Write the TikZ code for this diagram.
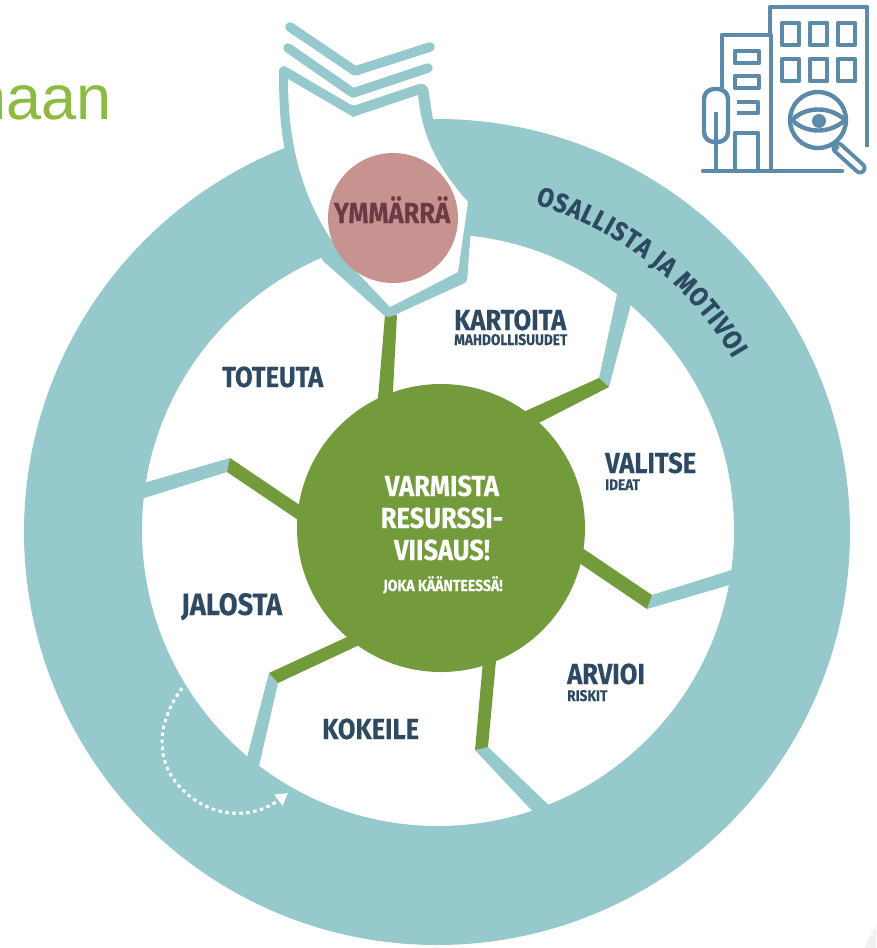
\documentclass[tikz,border=0pt]{standalone}
\usepackage{fontspec}
\setmainfont{Fira Sans}[BoldFeatures={FakeStretch=0.88,FakeBold=0.15}]
\newfontfamily\titlefont{Liberation Sans}
\usetikzlibrary{arrows.meta,decorations.text}
\definecolor{ringteal}{HTML}{95C9CB}
\definecolor{hubgreen}{HTML}{739B3C}
\definecolor{wordnavy}{HTML}{2E4A63}
\definecolor{focuspink}{HTML}{C79391}
\definecolor{focusword}{HTML}{6B3A45}
\definecolor{titlegreen}{HTML}{8DBB3F}
\definecolor{iconblue}{HTML}{5B8BA9}
\definecolor{cornergrey}{HTML}{F1F1F1}
\begin{document}
\begin{tikzpicture}[x=1pt,y=-1pt]
\tikzstyle{word} = [font=\bfseries\fontsize{29}{29}\selectfont,text=wordnavy,inner sep=0pt,anchor=base west]
\tikzstyle{subword} = [font=\bfseries\fontsize{15.5}{15.5}\selectfont,text=wordnavy,inner sep=0pt,anchor=base west]
\tikzstyle{hubword} = [font=\bfseries\fontsize{29}{29}\selectfont,text=white,inner sep=0pt,anchor=base]
\tikzstyle{icon} = [draw=iconblue,line width=4.4pt,line join=round]
\tikzstyle{spoke} = [fill=ringteal]
\tikzstyle{stem} = [fill=hubgreen]
\tikzstyle{chevron} = [ringteal,line width=9.5pt,line cap=round,line join=round]
\useasboundingbox (0,0) rectangle (876,948);
\clip (0,0) rectangle (876,948);

\node [font=\titlefont\fontsize{63}{63}\selectfont,text=titlegreen,inner sep=0pt,anchor=base east] (title) at (112,119) {haan};

%ring
\fill [ringteal,even odd rule] (437,532) circle [radius=413] (438,530) circle [radius=296];

%teal spokes
\fill [spoke] (599,378) -- (609,387) -- (632,300) -- (618,290) -- cycle;
\fill [spoke] (652,595) -- (647,609) -- (740,582) -- (738,568) -- cycle;
\fill [spoke] (475,750) -- (488,747) -- (556,812) -- (536,815) -- cycle;
\fill [spoke] (269,673) -- (278,683) -- (257,775) -- (245,765) -- cycle;
\fill [spoke] (230,458) -- (227,472) -- (138,500) -- (140,484) -- cycle;

%green spokes
\fill [stem] (385,315) -- (397,315) -- (392,410) -- (377,410) -- cycle;
\fill [stem] (599,378) -- (609,387) -- (525,430) -- (510,418) -- cycle;
\fill [stem] (652,595) -- (647,609) -- (560,550) -- (560,533) -- cycle;
\fill [stem] (475,750) -- (488,747) -- (497,650) -- (484,650) -- cycle;
\fill [stem] (269,673) -- (278,683) -- (370,640) -- (360,631) -- cycle;
\fill [stem] (230,458) -- (227,472) -- (310,528) -- (310,512) -- cycle;
\node [circle,fill=hubgreen,minimum size=288pt,inner sep=0pt] (hub) at (441,528) {};

%shield
\fill [ringteal,rounded corners=3pt] (279,70) -- (283,65) -- (353,106) -- (422,83) -- (428,87) -- (433,120) -- (473,200) -- (467,282) -- (390,317) -- (386,317) -- (322,260) -- (285,150) .. controls (280,125) and (279,100) .. (279,70);
\fill [white] (288,79) -- (353,117) -- (418,95) .. controls (421,125) and (430,160) .. (468,202) -- (458,272) -- (390,307) -- (355,270) .. controls (310,220) and (288,160) .. (288,79);
\draw [chevron] (290,27) -- (355,71) -- (430,47);
\draw [chevron] (288,48) -- (353,93) -- (428,68);

\node [circle,fill=focuspink,minimum size=130pt,inner sep=0pt] (focus) at (393,218) {};
\node [font=\bfseries\fontsize{29}{29}\selectfont,text=focusword,inner sep=0pt,anchor=base] (ymmarra) at (392,223) {YMMÄRRÄ};

%labels
\node [word] (kartoita) at (454,330) {KARTOITA};
\node [subword] (mahdoll) at ([yshift=-15pt]kartoita.base west) {MAHDOLLISUUDET};
\node [word] (valitse) at (605,473) {VALITSE};
\node [subword] (ideat) at ([yshift=-17pt]valitse.base west) {IDEAT};
\node [word] (arvioi) at (567,684) {ARVIOI};
\node [subword] (riskit) at ([yshift=-17pt]arvioi.base west) {RISKIT};
\node [word] (kokeile) at (322,739) {KOKEILE};
\node [word,font=\bfseries\fontsize{31}{31}\selectfont] (jalosta) at (181,615) {JALOSTA};
\node [word] (toteuta) at (222,387) {TOTEUTA};

%hub text
\node [hubword] (hub1) at (442,496) {VARMISTA};
\node [hubword] (hub2) at (442,528) {RESURSSI-};
\node [hubword] (hub3) at (442,560) {VIISAUS!};
\node [hubword,font=\bfseries\fontsize{16}{16}\selectfont] (hub4) at (443,591) {JOKA KÄÄNTEESSÄ!};

%outer text
\path [decorate,decoration={text along path,text align=fit to path,
  text={|\bfseries\fontsize{27}{27}\selectfont\color{wordnavy}|OSALLISTA JA MOTIVOI}}]
  (438,532) ++(-73.5:342) arc [start angle=-73.5,end angle=-30.5,radius=342];

%turn arrow
\draw [white,line width=3pt,dash pattern=on 3.5pt off 3.5pt,-{Triangle[length=12pt,width=13pt]}] (182,688) .. controls (155,725) and (155,765) .. (185,792) .. controls (215,820) and (255,818) .. (288,793);

%icon
\draw [icon] (770,37) -- (770,7) -- (867,7) -- (867,147);
\draw [icon] (722,88) -- (722,35) -- (771,35) -- (771,171);
\foreach \px in {782,810,838}
  \foreach \py in {23,59}
    \draw [icon] (\px,\py) rectangle ++(17,22);
\draw [icon] (735,51) rectangle (759,63);
\draw [icon] (735,76) rectangle (759,88);
\draw [icon] (737,102) -- (758,102) -- (758,113) -- (737,113);
\draw [icon] (735,171) -- (735,133) -- (758,133) -- (758,171);
\draw [icon,rounded corners=10pt] (704,89) rectangle (728,142);
\draw [icon] (716,112) -- (716,171);
\draw [icon,line cap=round] (703,171) -- (842,171);
\draw [icon] (818,120) circle [radius=28];
\draw [icon] (792,120) .. controls (806,106) and (830,106) .. (845,120) .. controls (830,134) and (806,134) .. (792,120);
\fill [iconblue] (819,121) circle [radius=7];
\draw [iconblue,line width=13pt,line cap=round] (838,148) -- (860,168);
\draw [white,line width=5pt,line cap=round] (838,148) -- (860,168);
\draw [icon] (832,143) -- (838,149);

%corner
\fill [cornergrey] (864,948) -- (876,925) -- (876,948) -- cycle;
\end{tikzpicture}
\end{document}
